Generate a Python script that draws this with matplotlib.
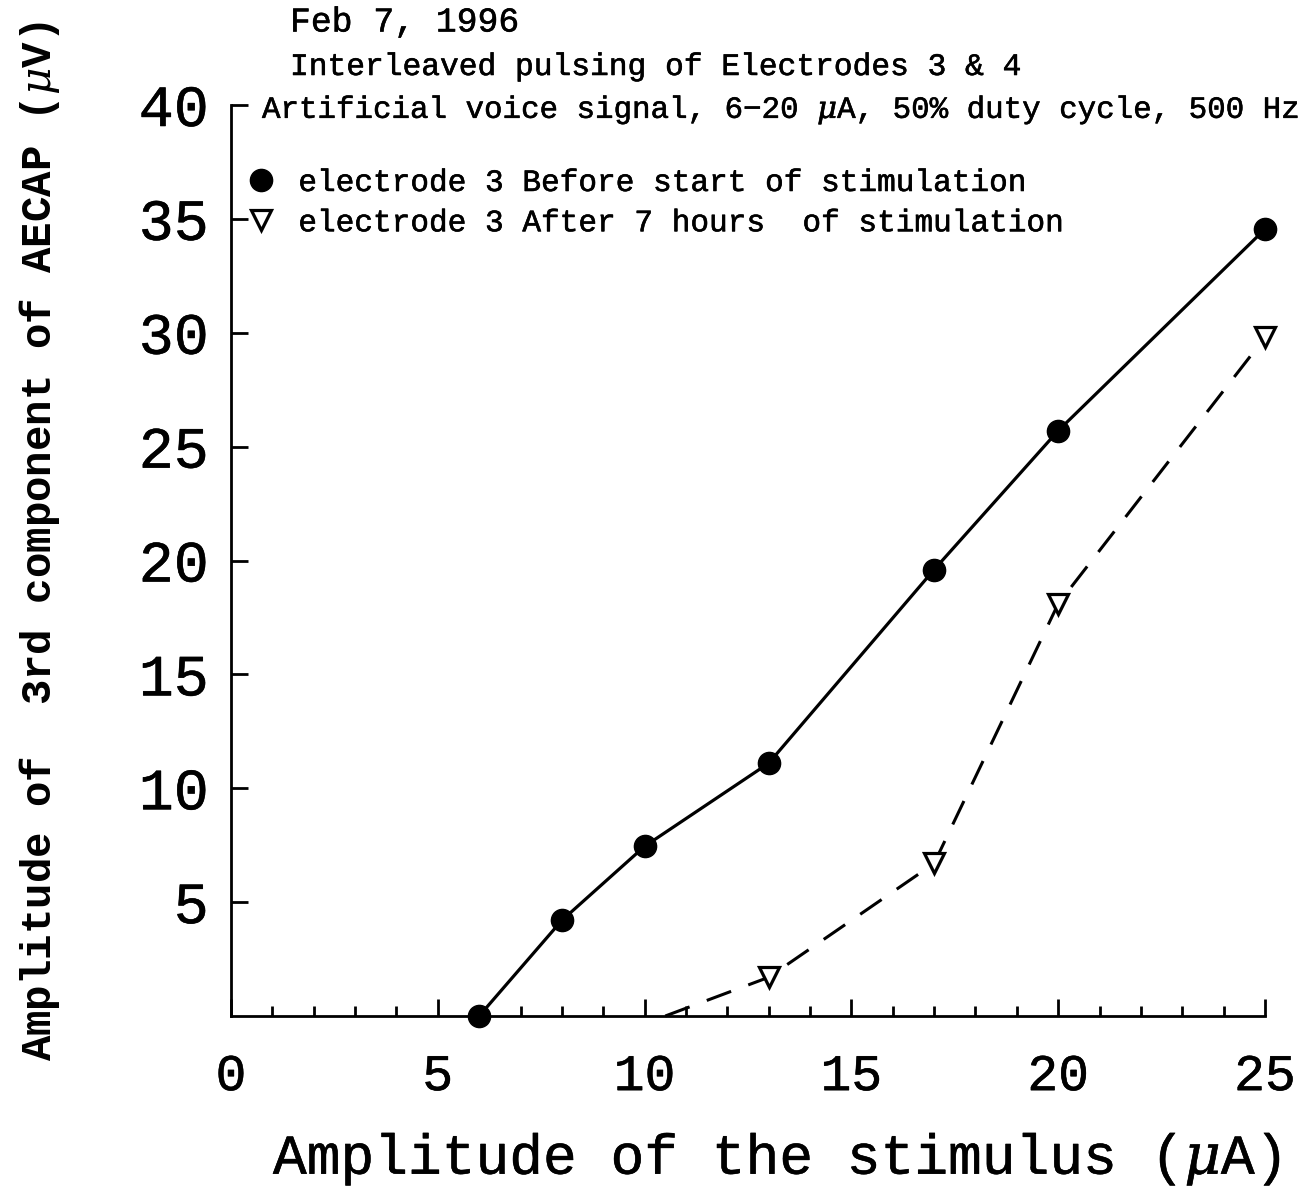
import matplotlib
matplotlib.use("Agg")
import matplotlib.pyplot as plt
import matplotlib.patheffects as pe
from matplotlib.ticker import MultipleLocator

plt.rcParams['font.family'] = ['Liberation Mono', 'DejaVu Sans Mono']
plt.rcParams['mathtext.fontset'] = 'dejavuserif'

# Data
stim_before = [6, 8, 10, 13, 17, 20, 25]
amp_before = [0.0, 4.2, 7.45, 11.1, 19.6, 25.7, 34.55]
stim_after = [10.5, 13, 17, 20, 25]
amp_after = [0.0, 1.7, 6.7, 18.1, 29.8]

label_before = "electrode 3 Before start of stimulation"
label_after = "electrode 3 After 7 hours  of stimulation"
title_lines = ["Feb 7, 1996",
               "Interleaved pulsing of Electrodes 3 & 4",
               "Artificial voice signal, 6\u221220 $\\mu$A, 50% duty cycle, 500 Hz"]
xlabel = "Amplitude of the stimulus ($\\mu$A)"
ylabel = "Amplitude of  3rd component of AECAP ($\\mu$V)"

thick = [pe.withStroke(linewidth=0.4, foreground='black')]

W, H = 1304, 1189
fig = plt.figure(figsize=(W / 100, H / 100), dpi=100)
ax = fig.add_axes([231 / W, 1 - 1016 / H, (1265 - 231) / W, (1016 - 105) / H])

ax.plot(stim_before, amp_before, color='black', lw=2.3, marker='o', ms=16,
        mfc='black', mec='black', clip_on=False, zorder=3, label=label_before)
ax.plot(stim_after, amp_after, color='black', lw=2.2, ls=(0, (8.5, 6)),
        marker='v', ms=15, mfc='white', mec='black', mew=2.3,
        markevery=[1, 2, 3, 4], clip_on=False, zorder=3, label=label_after)

ax.set_xlim(0, 25)
ax.set_ylim(0, 40)
for s in ['top', 'right']:
    ax.spines[s].set_visible(False)
for s in ['left', 'bottom']:
    ax.spines[s].set_linewidth(2.0)

ax.xaxis.set_major_locator(MultipleLocator(5))
ax.xaxis.set_minor_locator(MultipleLocator(1))
ax.yaxis.set_major_locator(MultipleLocator(5))
ax.tick_params(axis='both', which='major', direction='in', length=12, width=2)
ax.tick_params(axis='x', which='minor', direction='in', length=7, width=2)
ax.tick_params(axis='x', which='major', labelsize=37, pad=26)
ax.tick_params(axis='y', which='major', labelsize=42, pad=16)
ax.set_yticks([5, 10, 15, 20, 25, 30, 35, 40])
for lab in ax.get_xticklabels() + ax.get_yticklabels():
    lab.set_path_effects(thick)

fig.text(777 / W, 1 - 1160 / H, xlabel, fontsize=40.5, ha='center',
         va='center', path_effects=thick)
fig.text(40 / W, 1 - 541 / H, ylabel, fontsize=30.5, fontweight='bold',
         rotation=90, ha='center', va='center')

title_pos = [(290, 22), (290, 67), (262, 110)]
title_sizes = [25, 22.5, 22.2]
for (tx, ty), t, fs in zip(title_pos, title_lines, title_sizes):
    fig.text(tx / W, 1 - ty / H, t, fontsize=fs, ha='left', va='center',
             path_effects=thick)

leg = ax.legend(loc='upper left', bbox_to_anchor=(261 / W, 1 - 168 / H),
                bbox_transform=fig.transFigure, frameon=False, fontsize=22.4,
                handlelength=0, handletextpad=1.2, numpoints=1,
                labelspacing=0.33, borderpad=0, borderaxespad=0)
for h in leg.legend_handles:
    h.set_linestyle('None')
for t in leg.get_texts():
    t.set_path_effects(thick)

fig.savefig("out.png", dpi=100)
